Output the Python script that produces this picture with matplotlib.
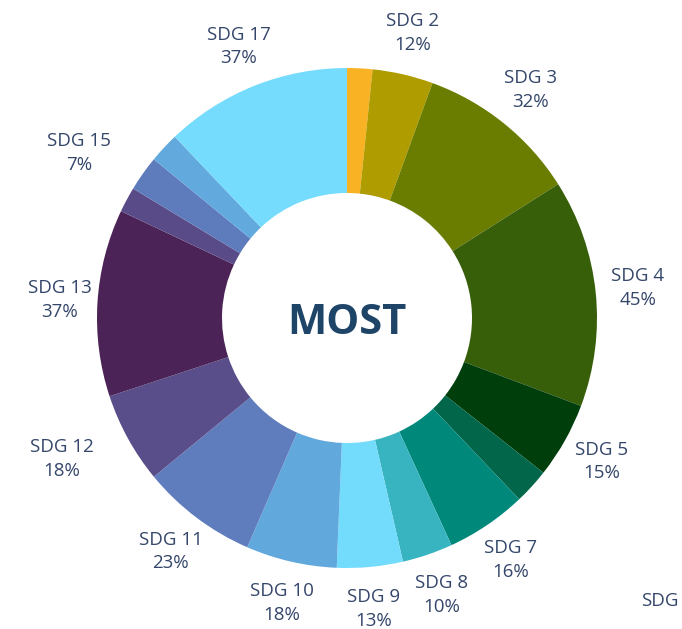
import numpy as np
import matplotlib.pyplot as plt

# SDG shares, clockwise from the top
goals = ['SDG %d' % i for i in range(1, 18)]
values = [5, 12, 32, 45, 15, 7, 16, 10, 13, 18, 23, 18, 37, 5, 7, 6, 37]
pct_labels = ['', '12%', '32%', '45%', '15%', '', '16%', '10%', '13%', '18%',
              '23%', '18%', '37%', '', '7%', '', '37%']
colors = ['#F9B224', '#AE9C00', '#6B7D00', '#375F0A', '#003F0B', '#01664A',
          '#00897B', '#37B4BF', '#73DCFD', '#61A8DD', '#5F7DBD', '#5A4E8A',
          '#4B2356', '#584B88', '#5E7BBC', '#62A9DE', '#75DCFD']
center_text = 'MOST'

plt.rcParams['font.family'] = ['Open Sans', 'DejaVu Sans']
txt_color = '#34466a'

fig = plt.figure(figsize=(6.82, 6.29), dpi=100)
ax = fig.add_axes([0, 0, 1, 1])

wedges, _ = ax.pie(values, startangle=90, counterclock=False, radius=1,
                   colors=colors, wedgeprops=dict(width=0.5, edgecolor='none'))

# a few labels were pushed outward to avoid crowding
nudge = {'SDG 12': (-0.116, 0.0), 'SDG 13': (0.02, 0.0), 'SDG 15': (-0.118, -0.016)}

# labels sit outside the ring at each wedge's mid angle
for w, g, p in zip(wedges, goals, pct_labels):
    if not p:
        continue
    mid = np.deg2rad((w.theta1 + w.theta2) / 2)
    dx, dy = nudge.get(g, (0, 0))
    ax.text(1.17 * np.cos(mid) + dx, 1.17 * np.sin(mid) + dy, g + '\n' + p,
            ha='center', va='center', fontsize=13.5, color=txt_color,
            linespacing=1.4)

ax.text(0, -0.02, center_text, ha='center', va='center', fontsize=30,
        fontweight='bold', color='#1E4468')

# stray label at the bottom right
ax.text(1.175, -1.13, 'SDG', ha='left', va='center', fontsize=13.5,
        color=txt_color)

# 250 px per data unit, centre at (347, 318) px
ax.set_xlim(-347 / 250, (682 - 347) / 250)
ax.set_ylim(-(629 - 318) / 250, 318 / 250)
ax.set_aspect('auto')
ax.axis('off')

fig.savefig('out.png', dpi=100)
